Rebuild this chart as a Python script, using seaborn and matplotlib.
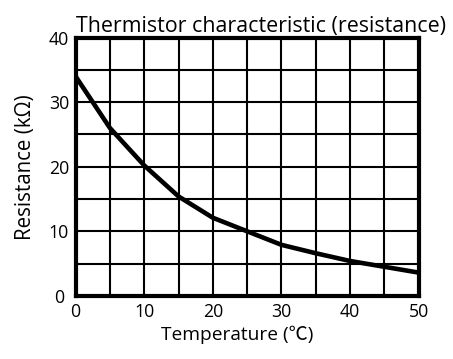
import matplotlib
matplotlib.use("Agg")
import matplotlib.pyplot as plt
import seaborn as sns
import pandas as pd
from matplotlib.ticker import MultipleLocator

# Thermistor resistance vs. temperature
temperature_c = [0, 5, 10, 15, 20, 25, 30, 35, 40, 45, 50]
resistance_kohm = [34.0, 26.0, 20.2, 15.4, 12.1, 10.0, 7.9, 6.6, 5.4, 4.5, 3.6]

x_ticks = [0, 10, 20, 30, 40, 50]
y_ticks = [0, 10, 20, 30, 40]

title_text = "Thermistor characteristic (resistance)"
x_label = "Temperature (℃)"
y_label = "Resistance (kΩ)"

sns.set_theme(style="white")
plt.rcParams["font.family"] = ["Open Sans", "Noto Sans CJK JP", "DejaVu Sans"]
plt.rcParams["font.weight"] = "normal"

df = pd.DataFrame({"temp": temperature_c, "res": resistance_kohm})

fig = plt.figure(figsize=(4.53, 3.59), dpi=100)
ax = fig.add_axes([0.167, 0.176, 0.757, 0.719])

sns.lineplot(data=df, x="temp", y="res", ax=ax, color="black",
             linewidth=3.3, zorder=5)

ax.set_xlim(0, 50)
ax.set_ylim(0, 40)
ax.set_xticks(x_ticks)
ax.set_yticks(y_ticks)
ax.xaxis.set_minor_locator(MultipleLocator(5))
ax.yaxis.set_minor_locator(MultipleLocator(5))
ax.grid(True, which="both", color="black", linewidth=1.5)
ax.set_axisbelow(True)

for side in ax.spines.values():
    side.set_visible(True)
    side.set_color("black")
    side.set_linewidth(3.0)
    side.set_zorder(6)

ax.tick_params(axis="both", which="both", length=0, labelsize=12.8,
               colors="black")
ax.tick_params(axis="x", pad=5)
ax.tick_params(axis="y", pad=12)
for lab in ax.get_yticklabels():
    lab.set_horizontalalignment("center")

ax.set_xlabel(x_label, fontsize=13.8, color="black", labelpad=3)
ax.xaxis.set_label_coords(0.472, -0.117)
ax.set_ylabel(y_label, fontsize=14.8, color="black", labelpad=9)
ax.set_title(title_text, fontsize=15.4, color="black", loc="left", pad=4)

fig.savefig("out.png", dpi=100, facecolor="white")
